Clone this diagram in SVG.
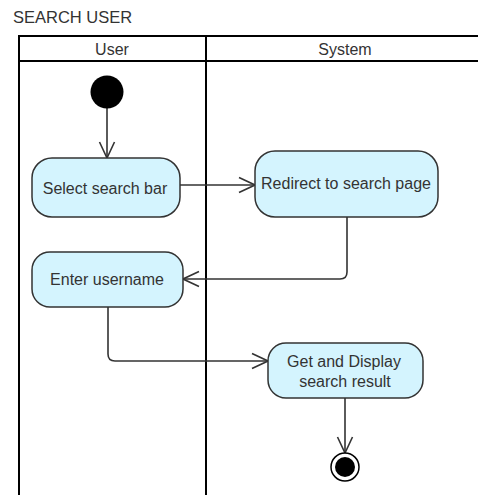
<svg xmlns="http://www.w3.org/2000/svg" width="478" height="495" viewBox="0 0 478 495">
  <style>
    .lane { fill: none; stroke: #000; stroke-width: 2; }
    .lbl { font-family: "Liberation Sans", Arial, sans-serif; font-size: 16px; fill: #333; text-anchor: middle; }
    .title { font-family: "Liberation Sans", Arial, sans-serif; font-size: 16.5px; fill: #333; }
    .act { fill: #d4f4fe; stroke: #333; stroke-width: 1.5; }
    .edge { fill: none; stroke: #333; stroke-width: 1.6; marker-end: url(#open); }
  </style>
  <defs>
    <!-- open V arrowhead for control flows -->
    <marker id="open" viewBox="0 0 18 18" refX="17" refY="9" markerWidth="18" markerHeight="18" markerUnits="userSpaceOnUse" orient="auto">
      <path d="M1,1.5 L17,9 L1,16.5" fill="none" stroke="#333" stroke-width="1.6"/>
    </marker>
  </defs>
  <rect width="478" height="495" fill="#fff"/>
  <text class="title" x="13" y="23">SEARCH USER</text>

  <!-- swimlanes -->
  <g id="lanes">
    <path class="lane" d="M19,497 V36 H480 M19,61 H480 M206,36 V497"/>
    <text class="lbl" x="112" y="55">User</text>
    <text class="lbl" x="345" y="55">System</text>
  </g>

  <!-- connectors -->
  <g id="connectors">
    <path class="edge" d="M107,106 V158"/>
    <path class="edge" d="M180,185 H255"/>
    <path class="edge" d="M347,217 V272 Q347,279 340,279 H183"/>
    <path class="edge" d="M108,307 V354 Q108,361 115,361 H268"/>
    <path class="edge" d="M345,398 V453"/>
  </g>

  <g id="start">
    <circle cx="107" cy="92" r="16.5" fill="#000"/>
  </g>
  <g id="select-search-bar">
    <rect class="act" x="32" y="158" width="148" height="59" rx="20"/>
    <text class="lbl" x="105" y="194">Select search bar</text>
  </g>
  <g id="redirect">
    <rect class="act" x="255" y="151" width="183" height="66" rx="20"/>
    <text class="lbl" x="346" y="189">Redirect to search page</text>
  </g>
  <g id="enter-username">
    <rect class="act" x="32" y="252" width="151" height="55" rx="18"/>
    <text class="lbl" x="107" y="285">Enter username</text>
  </g>
  <g id="get-display">
    <rect class="act" x="268" y="343" width="155" height="55" rx="18"/>
    <text class="lbl" x="344" y="367">Get and Display</text>
    <text class="lbl" x="345" y="387">search result</text>
  </g>
  <g id="end">
    <circle cx="345" cy="467" r="14" fill="#fff" stroke="#000" stroke-width="1.5"/>
    <circle cx="345" cy="467" r="10" fill="#000"/>
  </g>
</svg>
